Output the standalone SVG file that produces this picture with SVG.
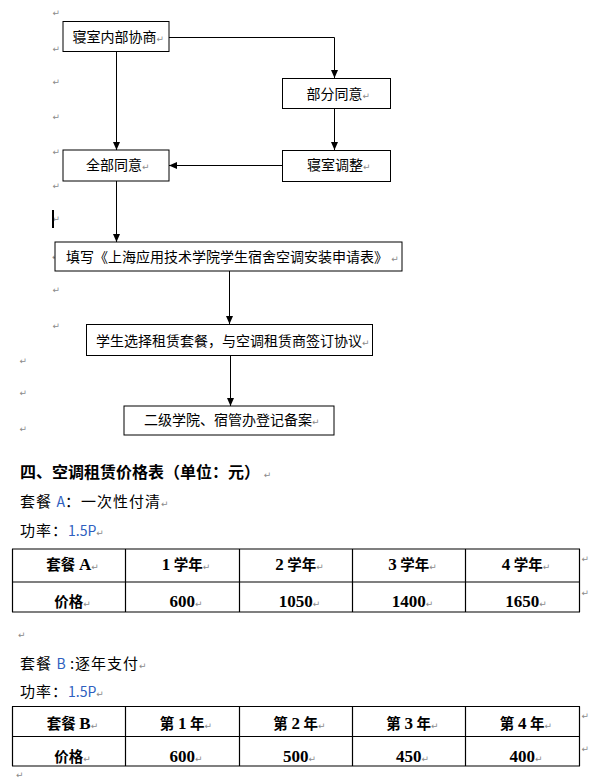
<svg xmlns="http://www.w3.org/2000/svg" width="589" height="780" viewBox="0 0 589 780">
<defs>
<marker id="ah" markerUnits="userSpaceOnUse" markerWidth="8" markerHeight="8" refX="8" refY="4" orient="auto">
<path d="M0,0.5 L8,4 L0,7.5 z" fill="#000"/>
</marker>
<style>
.box{fill:#fff;stroke:#000;stroke-width:1}
.bt{font-family:"Noto Sans CJK SC","Noto Sans CJK JP",sans-serif;font-size:14px;fill:#000}
.pm{font-family:"DejaVu Sans",sans-serif;font-size:9px;fill:#8a8a8a;font-weight:normal;letter-spacing:0}
.conn{stroke:#000;stroke-width:1;fill:none;marker-end:url(#ah)}
.body{font-family:"Noto Sans CJK SC","Noto Sans CJK JP",sans-serif;font-size:15px;fill:#000;letter-spacing:1px}
.head{font-family:"Noto Sans CJK SC","Noto Sans CJK JP",sans-serif;font-size:16px;font-weight:bold;fill:#000}
.blue{fill:#2f5fbf;font-size:14px;letter-spacing:0}
.grid{stroke:#000;stroke-width:1.2;fill:none}
.ct{font-family:"Liberation Serif","Noto Sans CJK SC",serif;font-size:14.5px;font-weight:bold;fill:#000;text-anchor:middle}
.n{font-size:17px}
</style>
</defs>
<rect width="589" height="780" fill="#fff"/>
<g id="marks">
<text class="pm" x="52.5" y="16">↵</text>
<text class="pm" x="52.5" y="52">↵</text>
<text class="pm" x="52.5" y="85">↵</text>
<text class="pm" x="52.5" y="120">↵</text>
<text class="pm" x="52.5" y="155">↵</text>
<text class="pm" x="52.5" y="188.5">↵</text>
<text class="pm" x="52.5" y="221.5">↵</text>
<text class="pm" x="52" y="260">↵</text>
<text class="pm" x="52.5" y="292.5">↵</text>
<text class="pm" x="52.5" y="328.5">↵</text>
<text class="pm" x="19.5" y="363.5">↵</text>
<text class="pm" x="19.5" y="395.5">↵</text>
<text class="pm" x="19.5" y="431.5">↵</text>
<rect x="52" y="210" width="2" height="18" fill="#000"/>
</g>
<g id="connectors">
<path class="conn" d="M169,37.5 H334.5 V78"/>
<path class="conn" d="M116.5,51 V150"/>
<path class="conn" d="M334.5,108 V150"/>
<path class="conn" d="M282,165.5 H169"/>
<path class="conn" d="M116.5,181 V242"/>
<path class="conn" d="M229.5,271 V324"/>
<path class="conn" d="M230.5,355 V406"/>
</g>
<g id="n1"><rect class="box" x="63" y="21.5" width="106" height="30"/><text class="bt" x="72.5" y="41.5">寝室内部协商<tspan class="pm">↵</tspan></text></g>
<g id="n2"><rect class="box" x="282.5" y="78.5" width="108" height="30"/><text class="bt" x="306.5" y="99">部分同意<tspan class="pm">↵</tspan></text></g>
<g id="n3"><rect class="box" x="63" y="150" width="106" height="31"/><text class="bt" x="86" y="169.5">全部同意<tspan class="pm">↵</tspan></text></g>
<g id="n4"><rect class="box" x="282.5" y="150.5" width="108" height="31"/><text class="bt" x="307" y="169.5">寝室调整<tspan class="pm">↵</tspan></text></g>
<g id="n5"><rect class="box" x="55" y="242" width="347" height="29"/><text class="bt" x="66" y="262">填写《上海应用技术学院学生宿舍空调安装申请表》 <tspan class="pm">↵</tspan></text></g>
<g id="n6"><rect class="box" x="86.5" y="324.5" width="286" height="31"/><text class="bt" x="96" y="345.5">学生选择租赁套餐，与空调租赁商签订协议<tspan class="pm">↵</tspan></text></g>
<g id="n7"><rect class="box" x="124" y="406" width="210" height="29"/><text class="bt" x="144" y="425">二级学院、宿管办登记备案<tspan class="pm">↵</tspan></text></g>
<g id="texts">
<text class="head" x="20" y="478">四、空调租赁价格表（单位：元） <tspan class="pm">↵</tspan></text>
<text class="body" x="20" y="507">套餐 <tspan class="blue">A</tspan>：一次性付清<tspan class="pm">↵</tspan></text>
<text class="body" x="20" y="536">功率：<tspan class="blue">1.5P</tspan><tspan class="pm">↵</tspan></text>
<text class="pm" x="18" y="637.5">↵</text>
<text class="body" x="20" y="669">套餐 <tspan class="blue">B</tspan> :逐年支付<tspan class="pm">↵</tspan></text>
<text class="body" x="20" y="697">功率：<tspan class="blue">1.5P</tspan><tspan class="pm">↵</tspan></text>
<text class="pm" x="16" y="778">↵</text>
</g>
<g id="tableA">
<path class="grid" d="M12,549 H580 M12,582 H580 M12,612 H580 M12.5,549 V612 M125.5,549 V612 M239.5,549 V612 M352.5,549 V612 M465.5,549 V612 M579.5,549 V612"/>
<text class="ct" x="72.5" y="570">套餐 <tspan class="n">A</tspan><tspan class="pm">↵</tspan></text>
<text class="ct" x="186" y="570"><tspan class="n">1</tspan> 学年<tspan class="pm">↵</tspan></text>
<text class="ct" x="299.5" y="570"><tspan class="n">2</tspan> 学年<tspan class="pm">↵</tspan></text>
<text class="ct" x="412.5" y="570"><tspan class="n">3</tspan> 学年<tspan class="pm">↵</tspan></text>
<text class="ct" x="526" y="570"><tspan class="n">4</tspan> 学年<tspan class="pm">↵</tspan></text>
<text class="ct" x="72.5" y="606.5">价格<tspan class="pm">↵</tspan></text>
<text class="ct" x="186" y="606.5"><tspan class="n">600</tspan><tspan class="pm">↵</tspan></text>
<text class="ct" x="299.5" y="606.5"><tspan class="n">1050</tspan><tspan class="pm">↵</tspan></text>
<text class="ct" x="412.5" y="606.5"><tspan class="n">1400</tspan><tspan class="pm">↵</tspan></text>
<text class="ct" x="526" y="606.5"><tspan class="n">1650</tspan><tspan class="pm">↵</tspan></text>
<text class="pm" x="581.5" y="562">↵</text>
<text class="pm" x="581.5" y="596">↵</text>
</g>
<g id="tableB">
<path class="grid" d="M12,706.5 H580 M12,736.5 H580 M12,766 H580 M12.5,706.5 V766 M125.5,706.5 V766 M239.5,706.5 V766 M352.5,706.5 V766 M465.5,706.5 V766 M579.5,706.5 V766"/>
<text class="ct" x="72.5" y="729">套餐 <tspan class="n">B</tspan><tspan class="pm">↵</tspan></text>
<text class="ct" x="186" y="729">第 <tspan class="n">1</tspan> 年<tspan class="pm">↵</tspan></text>
<text class="ct" x="299.5" y="729">第 <tspan class="n">2</tspan> 年<tspan class="pm">↵</tspan></text>
<text class="ct" x="412.5" y="729">第 <tspan class="n">3</tspan> 年<tspan class="pm">↵</tspan></text>
<text class="ct" x="526" y="729">第 <tspan class="n">4</tspan> 年<tspan class="pm">↵</tspan></text>
<text class="ct" x="72.5" y="762">价格<tspan class="pm">↵</tspan></text>
<text class="ct" x="186" y="762"><tspan class="n">600</tspan><tspan class="pm">↵</tspan></text>
<text class="ct" x="299.5" y="762"><tspan class="n">500</tspan><tspan class="pm">↵</tspan></text>
<text class="ct" x="412.5" y="762"><tspan class="n">450</tspan><tspan class="pm">↵</tspan></text>
<text class="ct" x="526" y="762"><tspan class="n">400</tspan><tspan class="pm">↵</tspan></text>
<text class="pm" x="581.5" y="718.5">↵</text>
<text class="pm" x="581.5" y="751.5">↵</text>
</g>
</svg>
